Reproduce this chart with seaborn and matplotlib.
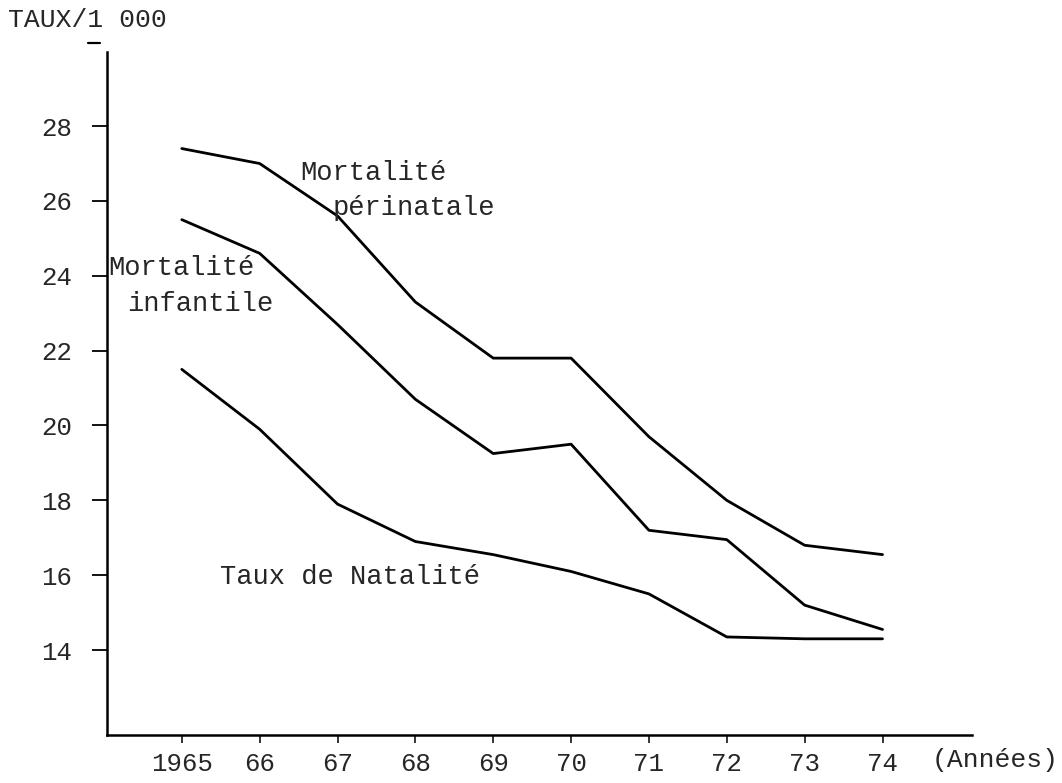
import matplotlib
matplotlib.use("Agg")
import matplotlib.pyplot as plt
from matplotlib.lines import Line2D
import seaborn as sns
import pandas as pd

# values (taux pour 1 000)
years = [1965, 1966, 1967, 1968, 1969, 1970, 1971, 1972, 1973, 1974]
perinatale = [27.4, 27.0, 25.6, 23.3, 21.8, 21.8, 19.7, 18.0, 16.8, 16.55]
infantile = [25.5, 24.6, 22.7, 20.7, 19.25, 19.5, 17.2, 16.95, 15.2, 14.55]
natalite = [21.5, 19.9, 17.9, 16.9, 16.55, 16.1, 15.5, 14.35, 14.3, 14.3]
year_labels = ["1965", "66", "67", "68", "69", "70", "71", "72", "73", "74"]
y_ticks = [14, 16, 18, 20, 22, 24, 26, 28]

df = pd.DataFrame({
    "annee": years * 3,
    "taux": perinatale + infantile + natalite,
    "serie": ["perinatale"] * 10 + ["infantile"] * 10 + ["natalite"] * 10,
})

sns.set_style("ticks")
plt.rcParams["font.family"] = ["Liberation Mono", "DejaVu Sans Mono"]

fig = plt.figure(figsize=(10.62, 7.83), dpi=100)
ax = fig.add_axes([0.1008, 0.0613, 0.8145, 0.8723])

sns.lineplot(data=df, x="annee", y="taux", hue="serie",
             palette=["black", "black", "black"], linewidth=2.0,
             legend=False, ax=ax)

ax.set_xlim(1964.04, 1975.15)
ax.set_ylim(11.73, 29.98)
ax.set_xticks(years)
ax.set_xticklabels(year_labels, fontsize=18.5)
ax.set_yticks(y_ticks)
ax.set_yticklabels([str(v) for v in y_ticks], fontsize=18.5)
ax.tick_params(axis="y", length=11, width=1.3, pad=14, color="black")
ax.tick_params(axis="x", length=6, width=1.1, pad=6, color="black")
ax.set_xlabel("")
ax.set_ylabel("")
sns.despine(ax=ax)
for side in ["left", "bottom"]:
    ax.spines[side].set_linewidth(1.8)
    ax.spines[side].set_color("black")

# curve labels
ax.text(1966.52, 26.75, "Mortalité", fontsize=19.5, ha="left", va="center")
ax.text(1966.94, 25.8, "périnatale", fontsize=19.5, ha="left", va="center")
ax.text(1964.05, 24.2, "Mortalité", fontsize=19.5, ha="left", va="center")
ax.text(1964.3, 23.25, "infantile", fontsize=19.5, ha="left", va="center")
ax.text(1965.49, 15.95, "Taux de Natalité", fontsize=19.5, ha="left", va="center")

fig.text(0.008, 0.974, "TAUX/1 000", fontsize=19, ha="left", va="center")
fig.add_artist(Line2D([88 / 1062, 100 / 1062], [1 - 43 / 783, 1 - 43 / 783],
                      color="black", linewidth=1.6))
fig.text(0.997, 0.029, "(Années)", fontsize=19, ha="right", va="center")

fig.savefig("out.png", dpi=100)
